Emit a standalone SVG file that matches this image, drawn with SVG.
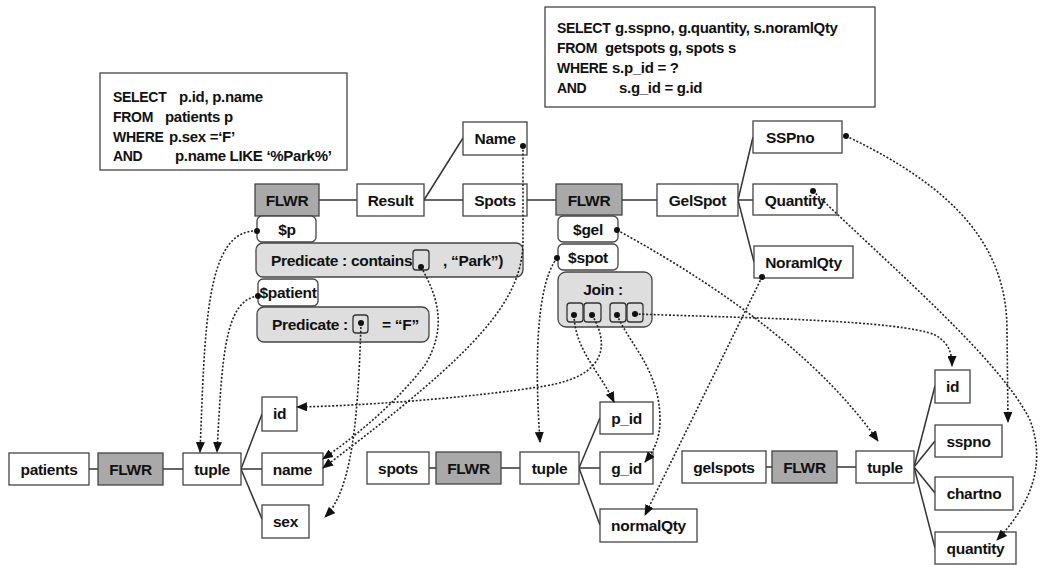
<svg xmlns="http://www.w3.org/2000/svg" width="1041" height="565" viewBox="0 0 1041 565">
<style>
  text { font-family: "Liberation Sans", Arial, sans-serif; font-weight: bold; font-size: 15.5px; fill: #111; letter-spacing: -0.3px; }
  .c { text-anchor: middle; }
  .sql { font-size: 15px; }
  .kw { font-size: 14px; }
  .box { fill: #fff; stroke: #444; stroke-width: 1.3; }
  .gray { fill: #a9a9a9; stroke: #444; stroke-width: 1.3; }
  .pred { fill: #dedede; stroke: #444; stroke-width: 1.3; }
  .slot { fill: none; stroke: #333; stroke-width: 1.3; }
  .tree { stroke: #333; stroke-width: 1.5; fill: none; }
  .dot { stroke: #222; stroke-width: 1.6; stroke-dasharray: 2 1.8; fill: none; marker-end: url(#arr); }
  .pt { fill: #111; }
</style>
<defs>
  <marker id="arr" markerUnits="userSpaceOnUse" markerWidth="11" markerHeight="9" refX="10" refY="4.5" orient="auto">
    <path d="M0,0 L11,4.5 L0,9 z" fill="#111"/>
  </marker>
</defs>
<rect width="1041" height="565" fill="#fff"/>

<!-- SQL boxes -->
<g id="sql1">
  <rect x="100" y="73" width="247" height="97" class="box"/>
  <text x="113" y="102" class="sql kw">SELECT</text><text x="179" y="102" class="sql">p.id, p.name</text>
  <text x="113" y="122" class="sql kw">FROM</text><text x="165" y="122" class="sql">patients  p</text>
  <text x="113" y="142" class="sql kw">WHERE</text><text x="169" y="142" class="sql">p.sex =‘F’</text>
  <text x="113" y="161" class="sql kw">AND</text><text x="175" y="161" class="sql">p.name LIKE ‘%Park%’</text>
</g>
<g id="sql2">
  <rect x="545" y="7" width="330" height="100" class="box"/>
  <text x="557" y="33" class="sql kw">SELECT</text><text x="615" y="33" class="sql">g.sspno, g.quantity, s.noramlQty</text>
  <text x="557" y="53" class="sql kw">FROM</text><text x="605" y="53" class="sql">getspots g, spots s</text>
  <text x="557" y="73" class="sql kw">WHERE</text><text x="612" y="73" class="sql">s.p_id = ?</text>
  <text x="557" y="93" class="sql kw">AND</text><text x="619" y="93" class="sql">s.g_id = g.id</text>
</g>

<!-- tree connectors -->
<g id="tree_connectors" class="tree">
  <line x1="319" y1="200" x2="357" y2="200"/>
  <line x1="424" y1="200" x2="463" y2="138"/>
  <line x1="424" y1="200" x2="463" y2="200"/>
  <line x1="527" y1="200" x2="556" y2="200"/>
  <line x1="622" y1="200" x2="657" y2="200"/>
  <line x1="738" y1="200" x2="753" y2="137"/>
  <line x1="738" y1="200" x2="753" y2="200"/>
  <line x1="738" y1="200" x2="754" y2="262"/>
  <line x1="89" y1="469" x2="98" y2="469"/>
  <line x1="163" y1="469" x2="183" y2="469"/>
  <line x1="241" y1="469" x2="262" y2="414"/>
  <line x1="241" y1="469" x2="262" y2="469"/>
  <line x1="241" y1="469" x2="262" y2="519"/>
  <line x1="429" y1="468" x2="436" y2="468"/>
  <line x1="501" y1="468" x2="520" y2="468"/>
  <line x1="579" y1="468" x2="600" y2="418"/>
  <line x1="579" y1="468" x2="600" y2="468"/>
  <line x1="579" y1="468" x2="600" y2="525"/>
  <line x1="766" y1="467" x2="772" y2="467"/>
  <line x1="837" y1="467" x2="856" y2="467"/>
  <line x1="914" y1="467" x2="935" y2="386"/>
  <line x1="914" y1="467" x2="935" y2="441"/>
  <line x1="914" y1="467" x2="935" y2="493"/>
  <line x1="914" y1="467" x2="935" y2="548"/>
</g>

<!-- top row -->
<g id="flwr1"><rect x="255" y="184" width="64" height="32" class="gray"/><text x="287" y="205.5" class="c">FLWR</text></g>
<g id="result"><rect x="357" y="184" width="67" height="32" class="box"/><text x="390.5" y="205.5" class="c">Result</text></g>
<g id="name_top"><rect x="463" y="122" width="64" height="33" class="box"/><text x="495" y="144" class="c">Name</text></g>
<g id="spots_top"><rect x="463" y="184" width="64" height="32" class="box"/><text x="495" y="205.5" class="c">Spots</text></g>
<g id="flwr2"><rect x="556" y="184" width="66" height="31" class="gray"/><text x="589" y="205.5" class="c">FLWR</text></g>
<g id="gelspot"><rect x="657" y="184" width="81" height="32" class="box"/><text x="697.5" y="205.5" class="c">GelSpot</text></g>
<g id="sspno_top"><rect x="753" y="121" width="89" height="32" class="box"/><text x="766" y="142.5">SSPno</text></g>
<g id="quantity_top"><rect x="753" y="184" width="84" height="31" class="box"/><text x="795" y="205.5" class="c">Quantity</text></g>
<g id="noramlqty"><rect x="754" y="246" width="99" height="32" class="box"/><text x="803.5" y="267.5" class="c">NoramlQty</text></g>

<!-- stack under FLWR1 -->
<g id="var_p"><rect x="257" y="216" width="59" height="26" rx="5" class="box"/><text x="287" y="234.5" class="c">$p</text></g>
<g id="pred_contains">
  <rect x="256" y="243" width="267" height="34" rx="7" class="pred"/>
  <text x="271" y="266">Predicate : contains</text>
  <rect x="413" y="250" width="16" height="20" rx="3" class="slot"/>
  <text x="443" y="266">,  “Park”)</text>
</g>
<g id="var_patient"><rect x="258" y="279" width="60" height="27" rx="5" class="box"/><text x="288" y="298" class="c">$patient</text></g>
<g id="pred_f">
  <rect x="257" y="307" width="172" height="35" rx="7" class="pred"/>
  <text x="272" y="330">Predicate :</text>
  <rect x="353" y="315" width="15" height="18" rx="3" class="slot"/>
  <text x="382" y="330">= “F”</text>
</g>

<!-- stack under FLWR2 -->
<g id="var_gel"><rect x="558" y="216" width="60" height="26" rx="5" class="box"/><text x="588" y="234.5" class="c">$gel</text></g>
<g id="var_spot"><rect x="558" y="244" width="60" height="26" rx="5" class="box"/><text x="588" y="262.5" class="c">$spot</text></g>
<g id="join">
  <rect x="558" y="272" width="94" height="55" rx="8" class="pred"/>
  <text x="603" y="295" class="c">Join :</text>
  <rect x="567" y="303" width="16" height="19" rx="3" class="slot"/>
  <rect x="584" y="303" width="17" height="19" rx="3" class="slot"/>
  <rect x="610" y="303" width="16" height="19" rx="3" class="slot"/>
  <rect x="627" y="303" width="16" height="19" rx="3" class="slot"/>
</g>

<!-- bottom: patients -->
<g id="patients"><rect x="9" y="453" width="80" height="32" class="box"/><text x="49" y="474.5" class="c">patients</text></g>
<g id="flwr_p"><rect x="98" y="453" width="65" height="32" class="gray"/><text x="130.5" y="474.5" class="c">FLWR</text></g>
<g id="tuple_p"><rect x="183" y="453" width="58" height="32" class="box"/><text x="212" y="474.5" class="c">tuple</text></g>
<g id="id_p"><rect x="262" y="397" width="35" height="34" class="box"/><text x="279.5" y="419" class="c">id</text></g>
<g id="name_p"><rect x="262" y="453" width="61" height="32" class="box"/><text x="292.5" y="474.5" class="c">name</text></g>
<g id="sex_p"><rect x="262" y="505" width="47" height="33" class="box"/><text x="285.5" y="527" class="c">sex</text></g>

<!-- bottom: spots -->
<g id="spots_b"><rect x="367" y="452" width="62" height="32" class="box"/><text x="398" y="473.5" class="c">spots</text></g>
<g id="flwr_s"><rect x="436" y="452" width="65" height="32" class="gray"/><text x="468.5" y="473.5" class="c">FLWR</text></g>
<g id="tuple_s"><rect x="520" y="452" width="59" height="32" class="box"/><text x="549.5" y="473.5" class="c">tuple</text></g>
<g id="p_id"><rect x="600" y="402" width="53" height="32" class="box"/><text x="626.5" y="423.5" class="c">p_id</text></g>
<g id="g_id"><rect x="600" y="452" width="53" height="32" class="box"/><text x="626.5" y="473.5" class="c">g_id</text></g>
<g id="normalqty"><rect x="600" y="509" width="97" height="33" class="box"/><text x="648.5" y="531" class="c">normalQty</text></g>

<!-- bottom: gelspots -->
<g id="gelspots"><rect x="682" y="451" width="84" height="32" class="box"/><text x="724" y="472.5" class="c">gelspots</text></g>
<g id="flwr_g"><rect x="772" y="451" width="65" height="32" class="gray"/><text x="804.5" y="472.5" class="c">FLWR</text></g>
<g id="tuple_g"><rect x="856" y="451" width="58" height="32" class="box"/><text x="885" y="472.5" class="c">tuple</text></g>
<g id="id_g"><rect x="935" y="370" width="35" height="33" class="box"/><text x="952.5" y="392" class="c">id</text></g>
<g id="sspno_g"><rect x="935" y="425" width="67" height="32" class="box"/><text x="968.5" y="446.5" class="c">sspno</text></g>
<g id="chartno"><rect x="935" y="477" width="78" height="33" class="box"/><text x="974" y="499" class="c">chartno</text></g>
<g id="quantity_g"><rect x="935" y="532" width="81" height="32" class="box"/><text x="975.5" y="553.5" class="c">quantity</text></g>

<!-- dotted reference connectors -->
<g id="connectors">
  <path class="dot" d="M257,231 C205,229 205,330 200,452"/>
  <path class="dot" d="M258,296 C224,300 222,360 217,452"/>
  <path class="dot" d="M421,267 C440,300 446,330 425,365 C395,405 350,440 323,459"/>
  <path class="dot" d="M523,146 L523,240 C523,300 480,350 323,468"/>
  <path class="dot" d="M361,323 C358,420 352,490 325,517"/>
  <path class="dot" d="M557,258 C540,280 533,340 540,442"/>
  <path class="dot" d="M574,315 C575,350 600,372 614,402"/>
  <path class="dot" d="M592,315 C610,345 606,376 545,386 C470,398 360,406 297,407"/>
  <path class="dot" d="M617,315 C630,345 660,370 660,420 C660,440 653,452 645,462"/>
  <path class="dot" d="M635,314 C750,318 900,320 935,335 C948,342 952,352 952,366"/>
  <path class="dot" d="M617,230 Q800,330 878,441"/>
  <path class="dot" d="M762,277 L645,515"/>
  <path class="dot" d="M846,136 C960,190 1007,250 1007,330 L1008,422"/>
  <path class="dot" d="M813,191 C900,275 1000,360 1030,420 C1045,460 1035,500 997,540"/>
  <g class="pt">
    <circle cx="257" cy="231" r="3"/>
    <circle cx="258" cy="296" r="3"/>
    <circle cx="421" cy="267" r="3"/>
    <circle cx="361" cy="323" r="3"/>
    <circle cx="523" cy="146" r="3"/>
    <circle cx="617" cy="230" r="3"/>
    <circle cx="557" cy="258" r="3"/>
    <circle cx="574" cy="315" r="3"/>
    <circle cx="592" cy="315" r="3"/>
    <circle cx="617" cy="315" r="3"/>
    <circle cx="635" cy="314" r="3"/>
    <circle cx="846" cy="136" r="3"/>
    <circle cx="813" cy="191" r="3"/>
    <circle cx="762" cy="277" r="3"/>
  </g>
</g>
</svg>
